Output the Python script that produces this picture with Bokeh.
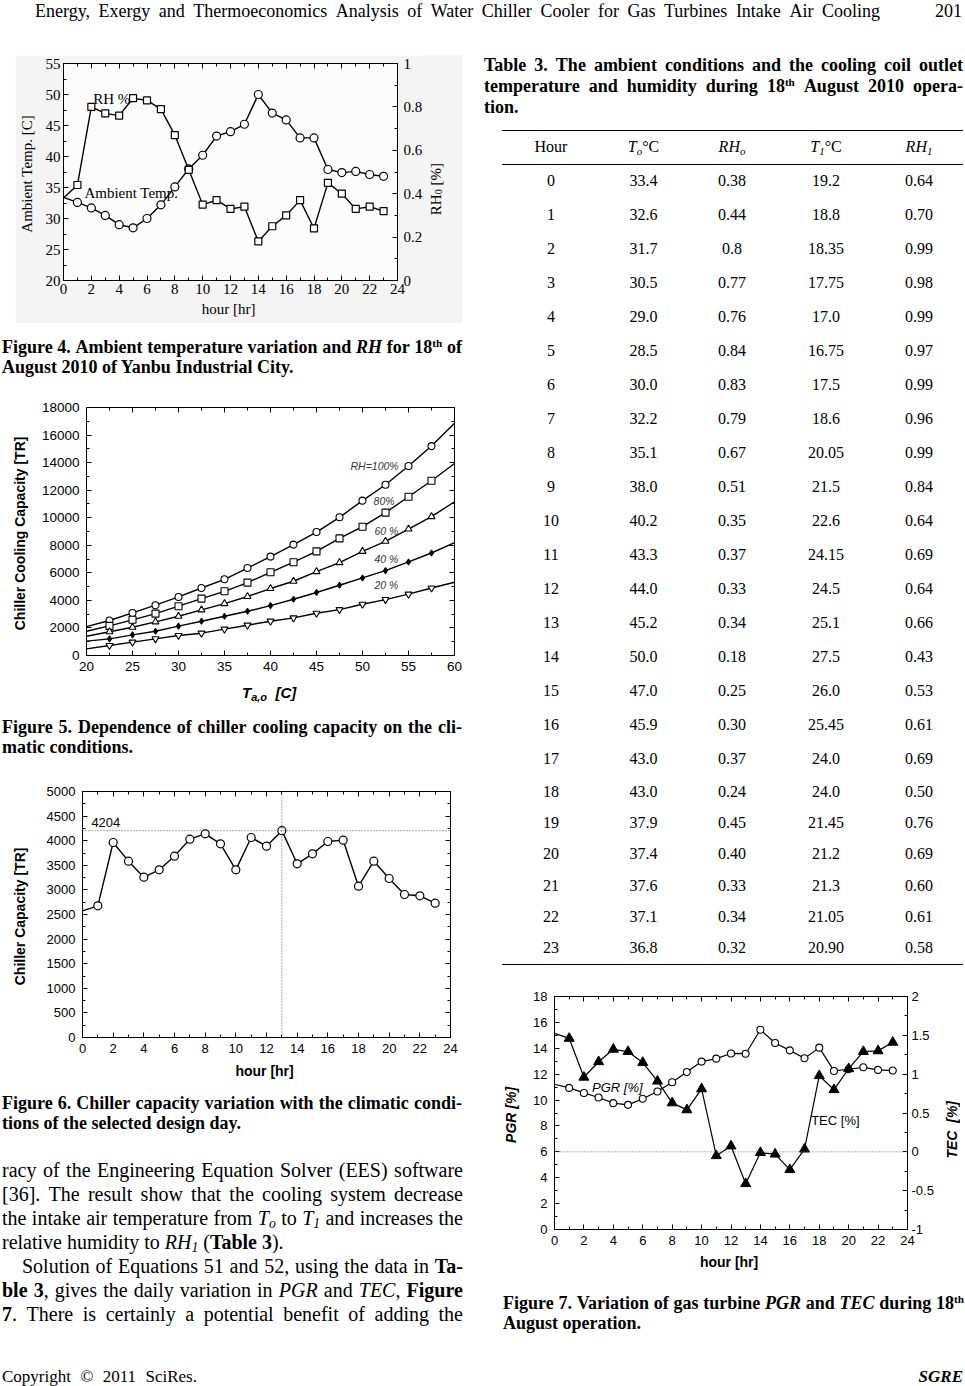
import math
from bokeh.plotting import figure
from bokeh.models import (LinearAxis, Range1d, SingleIntervalTicker, Label, Div,
                          Spacer, CustomJSTickFormatter, Span)
from bokeh.layouts import column, row
from bokeh.embed import file_html
from bokeh.resources import INLINE

SERIF = "Liberation Serif"
SANS = "Liberation Sans"

# ---------------- data ----------------
hours = list(range(24))
table_hour = [str(h) for h in hours]
table_To = ["33.4", "32.6", "31.7", "30.5", "29.0", "28.5", "30.0", "32.2", "35.1", "38.0", "40.2", "43.3",
            "44.0", "45.2", "50.0", "47.0", "45.9", "43.0", "43.0", "37.9", "37.4", "37.6", "37.1", "36.8"]
table_RHo = ["0.38", "0.44", "0.8", "0.77", "0.76", "0.84", "0.83", "0.79", "0.67", "0.51", "0.35", "0.37",
             "0.33", "0.34", "0.18", "0.25", "0.30", "0.37", "0.24", "0.45", "0.40", "0.33", "0.34", "0.32"]
table_T1 = ["19.2", "18.8", "18.35", "17.75", "17.0", "16.75", "17.5", "18.6", "20.05", "21.5", "22.6", "24.15",
            "24.5", "25.1", "27.5", "26.0", "25.45", "24.0", "24.0", "21.45", "21.2", "21.3", "21.05", "20.90"]
table_RH1 = ["0.64", "0.70", "0.99", "0.98", "0.99", "0.97", "0.99", "0.96", "0.99", "0.84", "0.64", "0.69",
             "0.64", "0.66", "0.43", "0.53", "0.61", "0.69", "0.50", "0.76", "0.69", "0.60", "0.61", "0.58"]
amb_temp = [float(v) for v in table_To]
rh_o = [float(v) for v in table_RHo]

# Figure 5: cooling capacity [TR] vs ambient temperature for several RH
ta = [20, 22.5, 25, 27.5, 30, 32.5, 35, 37.5, 40, 42.5, 45, 47.5, 50, 52.5, 55, 57.5, 60]
cap_rh100 = [2100, 2540, 3090, 3650, 4250, 4900, 5530, 6350, 7180, 8050, 8960, 10030, 11240, 12390, 13750, 15200, 16860]
cap_rh80 = [1760, 2150, 2590, 3040, 3580, 4130, 4660, 5290, 6040, 6770, 7560, 8500, 9350, 10370, 11520, 12680, 13940]
cap_rh60 = [1400, 1720, 2050, 2440, 2850, 3310, 3770, 4280, 4860, 5390, 6090, 6740, 7560, 8290, 9180, 10080, 11160]
cap_rh40 = [1040, 1210, 1500, 1760, 2130, 2490, 2850, 3210, 3620, 4080, 4570, 5100, 5630, 6160, 6790, 7440, 8190]
cap_rh20 = [480, 725, 970, 1210, 1450, 1620, 1910, 2200, 2490, 2730, 3070, 3330, 3720, 4060, 4450, 4900, 5320]

# Figure 6: chiller capacity [TR] per hour
chiller_cap = [2575, 2676, 3963, 3584, 3259, 3408, 3686, 4031, 4140, 3936, 3408, 4065,
               3889, 4204, 3530, 3733, 3984, 4011, 3076, 3584, 3232, 2907, 2880, 2730]
cap_max = 4204
cap_max_hour = 13

# Figure 7: PGR [%] and TEC [%] per hour
pgr = [11.22, 10.94, 10.55, 10.2, 9.76, 9.63, 10.1, 10.66, 11.38, 12.17, 12.97, 13.2,
       13.6, 13.58, 15.43, 14.41, 13.84, 13.23, 14.05, 12.25, 12.38, 12.53, 12.33, 12.28]
tec = [1.525, 1.46, 0.96, 1.16, 1.32, 1.29, 1.15, 0.91, 0.63, 0.54, 0.81, -0.05,
       0.075, -0.41, -0.01, -0.03, -0.23, 0.035, 0.98, 0.80, 1.07, 1.29, 1.30, 1.41]

NUMFMT = "return Number(tick.toFixed(2)).toString();"


# ---------------- helpers ----------------
def make_fig(width, height, xr, yr, mb, bg="white", border="white"):
    l, r, t, b = mb
    p = figure(width=width, height=height, x_range=Range1d(*xr), y_range=Range1d(*yr),
               output_backend="svg", toolbar_location=None,
               min_border_left=l, min_border_right=r, min_border_top=t, min_border_bottom=b,
               background_fill_color=bg, border_fill_color=border)
    p.outline_line_color = "black"
    p.outline_line_width = 1
    p.xgrid.grid_line_color = None
    p.ygrid.grid_line_color = None
    return p


def style_axis(ax, interval, font, size, standoff=5, hide=False, fmt=None):
    ax.ticker = SingleIntervalTicker(interval=interval, num_minor_ticks=2)
    ax.major_tick_in = 5
    ax.major_tick_out = 0
    ax.minor_tick_in = 3
    ax.minor_tick_out = 0
    ax.axis_line_color = "black"
    ax.major_tick_line_color = "black"
    ax.minor_tick_line_color = "black"
    ax.major_label_text_font = font
    ax.major_label_text_font_size = size
    ax.major_label_text_color = "black"
    ax.major_label_standoff = standoff
    if fmt is not None:
        ax.formatter = fmt
    if hide:
        ax.major_label_text_font_size = "1px"
        ax.major_label_text_color = None
        ax.major_label_standoff = 0


def title_axis(ax, text, font, size, style, standoff):
    ax.axis_label = text
    ax.axis_label_text_font = font
    ax.axis_label_text_font_size = size
    ax.axis_label_text_font_style = style
    ax.axis_label_text_color = "black"
    ax.axis_label_standoff = standoff


def lab(p, x, y, text, font, size, style="normal", align="left", baseline="middle", color="black"):
    p.add_layout(Label(x=x, y=y, text=text, text_font=font, text_font_size=size,
                       text_font_style=style, text_align=align, text_baseline=baseline,
                       text_color=color))


CSS = ("<style>.jl{display:flex;justify-content:space-between;white-space:nowrap}"
       ".ll{white-space:nowrap}"
       "sub{font-size:68%;line-height:0;vertical-align:-0.25em}"
       "sup{font-size:62%;line-height:0;vertical-align:0.55em}</style>")


def jline(s, indent=0):
    st = f' style="padding-left:{indent}px"' if indent else ""
    return f'<div class="jl"{st}>' + "".join(f"<span>{w}</span>" for w in s.split(" ")) + "</div>"


def lline(s, indent=0):
    st = f' style="padding-left:{indent}px"' if indent else ""
    return f'<div class="ll"{st}>{s}</div>'


def block(lines_html, width, height, inner_width, left=0, size=18, lh=20, weight="normal"):
    html = (CSS + f'<div style="position:relative;left:{left}px;width:{inner_width}px;'
            f"font-family:'{SERIF}';font-size:{size}px;line-height:{lh}px;font-weight:{weight};color:#000\">"
            + "".join(lines_html) + "</div>")
    return Div(text=html, width=width, height=height, margin=0)


def vtitle(text, width, height, cx, font, size, style, bg="white"):
    # rotated axis title that reads bottom-to-top, centred on x = cx inside the box
    html = (CSS + f'<div style="position:relative;width:{width}px;height:{height}px;background:{bg}">'
            f'<div style="position:absolute;left:{cx - 10}px;top:0px;width:20px;height:{height}px;'
            f'display:flex;align-items:center;justify-content:center">'
            f"<span style=\"writing-mode:vertical-rl;transform:rotate(180deg);white-space:nowrap;"
            f"font-family:'{font}';font-size:{size}px;{style};color:#000\">{text}</span></div></div>")
    return Div(text=html, width=width, height=height, margin=0)


# ---------------- Figure 4 ----------------
p4 = make_fig(414, 268, (0, 24), (20, 55), (48, 32, 8, 43), bg="#fcfcfc", border="#f4f4f4")
p4.extra_y_ranges = {"rh": Range1d(0, 1)}
style_axis(p4.xaxis[0], 2, SERIF, "15px", standoff=3)
title_axis(p4.xaxis[0], "hour  [hr]", SERIF, "15px", "normal", 4)
style_axis(p4.yaxis[0], 5, SERIF, "15px", standoff=3)
title_axis(p4.yaxis[0], "Ambient Temp.  [C]", SERIF, "15px", "normal", 8)
ax = LinearAxis(y_range_name="rh")
style_axis(ax, 0.2, SERIF, "15px", standoff=6, fmt=CustomJSTickFormatter(code=NUMFMT))
p4.add_layout(ax, "right")
ax = LinearAxis()
style_axis(ax, 2, SERIF, "15px", hide=True)
p4.add_layout(ax, "above")
p4.line(hours, amb_temp, line_color="black", line_width=1.4)
p4.scatter(hours[1:], amb_temp[1:], marker="circle", size=8, fill_color="white", line_color="black", line_width=1.2)
p4.line(hours, rh_o, y_range_name="rh", line_color="black", line_width=1.4)
p4.scatter(hours[1:], rh_o[1:], y_range_name="rh", marker="square", size=7, fill_color="white",
           line_color="black", line_width=1.2)
lab(p4, 2.14, 49.3, "RH %", SERIF, "15px")
lab(p4, 1.5, 34.1, "Ambient Temp.", SERIF, "15px")
rt4 = vtitle("RH<sub>0</sub> [%]", 33, 268, 8, SERIF, 15, "font-weight:normal", bg="#f4f4f4")

# ---------------- Figure 5 ----------------
p5 = make_fig(462, 283, (20, 60), (0, 18000), (71, 16, 12, 23))
style_axis(p5.xaxis[0], 5, SANS, "13.5px", standoff=6)
style_axis(p5.yaxis[0], 2000, SANS, "13.5px", standoff=7)
title_axis(p5.yaxis[0], "Chiller Cooling Capacity  [TR]", SANS, "14px", "bold", 11)
ax = LinearAxis()
style_axis(ax, 2000, SANS, "13px", hide=True)
p5.add_layout(ax, "right")
ax = LinearAxis()
style_axis(ax, 5, SANS, "13px", hide=True)
p5.add_layout(ax, "above")
series5 = [(cap_rh100, "circle", "white", 7), (cap_rh80, "square", "white", 7),
           (cap_rh60, "triangle", "white", 7), (cap_rh40, "diamond", "black", 6),
           (cap_rh20, "inverted_triangle", "white", 7)]
for vals, mk, fc, sz in series5:
    p5.line(ta, vals, line_color="black", line_width=1.4)
    p5.scatter(ta[1:-1], vals[1:-1], marker=mk, size=sz, fill_color=fc, line_color="black", line_width=1.1)
lab(p5, 48.7, 13773, "RH=100%", SANS, "10.5px", style="italic", color="#333333")
lab(p5, 51.2, 11236, "80%", SANS, "10.5px", style="italic", color="#333333")
lab(p5, 51.3, 9061, "60 %", SANS, "10.5px", style="italic", color="#333333")
lab(p5, 51.3, 7010, "40 %", SANS, "10.5px", style="italic", color="#333333")
lab(p5, 51.3, 5125, "20 %", SANS, "10.5px", style="italic", color="#333333")
xt5 = Div(text=(f"<div style=\"position:relative;width:462px;height:34px\">"
                f"<div style=\"position:absolute;left:234px;top:5px;line-height:20px;white-space:nowrap;"
                f"font-family:'{SANS}';font-size:15px;font-weight:bold;font-style:italic;color:#000\">"
                f"T<sub style=\"font-size:11px;line-height:0;vertical-align:-3px\">a,o</sub>&nbsp;&nbsp;[C]</div></div>"),
          width=462, height=34, margin=0)

# ---------------- Figure 6 ----------------
p6 = make_fig(462, 305, (0, 24), (0, 5000), (70, 20, 11, 48))
style_axis(p6.xaxis[0], 2, SANS, "13px", standoff=6)
title_axis(p6.xaxis[0], "hour  [hr]", SANS, "14px", "bold", 7)
style_axis(p6.yaxis[0], 500, SANS, "13px", standoff=7)
title_axis(p6.yaxis[0], "Chiller Capacity  [TR]", SANS, "14px", "bold", 16)
ax = LinearAxis()
style_axis(ax, 500, SANS, "13px", hide=True)
p6.add_layout(ax, "right")
ax = LinearAxis()
style_axis(ax, 2, SANS, "13px", hide=True)
p6.add_layout(ax, "above")
p6.add_layout(Span(location=cap_max, dimension="width", line_color="#555555", line_width=1, line_dash="1 2"))
p6.add_layout(Span(location=cap_max_hour, dimension="height", line_color="#555555", line_width=1, line_dash="1 2"))
p6.line(hours, chiller_cap, line_color="black", line_width=1.4)
p6.scatter(hours[1:], chiller_cap[1:], marker="circle", size=8, fill_color="white", line_color="black", line_width=1.2)
lab(p6, 0.58, 4370, str(cap_max), SANS, "13px")

# ---------------- Figure 7 ----------------
p7 = make_fig(443, 290, (0, 24), (0, 18), (52, 36, 11, 46))
p7.extra_y_ranges = {"tec": Range1d(-1, 2)}
style_axis(p7.xaxis[0], 2, SANS, "13px", standoff=6)
title_axis(p7.xaxis[0], "hour  [hr]", SANS, "14px", "bold", 6)
style_axis(p7.yaxis[0], 2, SANS, "13px", standoff=7)
title_axis(p7.yaxis[0], "PGR  [%]", SANS, "14px", "bold italic", 11)
ax = LinearAxis(y_range_name="tec")
style_axis(ax, 0.5, SANS, "13px", standoff=4, fmt=CustomJSTickFormatter(code=NUMFMT))
p7.add_layout(ax, "right")
ax = LinearAxis()
style_axis(ax, 2, SANS, "13px", hide=True)
p7.add_layout(ax, "above")
p7.add_layout(Span(location=6, dimension="width", line_color="#666666", line_width=1, line_dash="1 2"))
p7.line(hours, pgr, line_color="black", line_width=1.2)
p7.scatter(hours[1:], pgr[1:], marker="circle", size=7, fill_color="white", line_color="black", line_width=1.1)
p7.line(hours, tec, y_range_name="tec", line_color="black", line_width=1.2)
p7.scatter(hours[1:], tec[1:], y_range_name="tec", marker="triangle", size=10, fill_color="black", line_color="black")
lab(p7, 2.55, 10.94, "PGR  [%]", SANS, "13px", style="italic")
lab(p7, 17.45, 8.42, "TEC  [%]", SANS, "13px")
rt7 = vtitle("TEC&nbsp;&nbsp;[%]", 20, 290, 9, SANS, 14, "font-weight:bold;font-style:italic")

# ---------------- text blocks ----------------
PAGE_W = 964
header = Div(text=CSS + (
    f"<div style=\"position:relative;width:{PAGE_W}px;height:55px;font-family:'{SERIF}';font-size:18px;line-height:18px;color:#000\">"
    f"<div class=\"jl\" style=\"position:absolute;left:35px;top:2px;width:845px\">"
    + "".join(f"<span>{w}</span>" for w in
              "Energy, Exergy and Thermoeconomics Analysis of Water Chiller Cooler for Gas Turbines Intake Air Cooling".split(" "))
    + "</div><div style=\"position:absolute;right:2px;top:2px\">201</div></div>"),
    width=PAGE_W, height=55, margin=0)

cap4 = block([jline("Figure 4. Ambient temperature variation and <i>RH</i> for 18<sup>th</sup> of"),
              lline("August 2010 of Yanbu Industrial City.")], 483, 40, 460, left=2, weight="bold")
cap5 = block([jline("Figure 5. Dependence of chiller cooling capacity on the cli-"),
              lline("matic conditions.")], 483, 40, 460, left=2, weight="bold")
cap6 = block([jline("Figure 6. Chiller capacity variation with the climatic condi-"),
              lline("tions of the selected design day.")], 483, 40, 460, left=2, weight="bold")
para = block([jline("racy of the Engineering Equation Solver (EES) software"),
              jline("[36]. The result show that the cooling system decrease"),
              jline("the intake air temperature from <i>T<sub>o</sub></i> to <i>T<sub>1</sub></i> and increases the"),
              lline("relative humidity to <i>RH<sub>1</sub></i> (<b>Table 3</b>)."),
              jline("Solution of Equations 51 and 52, using the data in <b>Ta-</b>", indent=20),
              jline("<b>ble</b> <b>3</b>, gives the daily variation in <i>PGR</i> and <i>TEC</i>, <b>Figure</b>"),
              jline("<b>7</b>. There is certainly a potential benefit of adding the")],
             483, 168, 461, left=2, size=20, lh=24)
tabcap = block([jline("Table 3. The ambient conditions and the cooling coil outlet"),
                jline("temperature and humidity during 18<sup>th</sup> August 2010 opera-"),
                lline("tion.")], 481, 63, 479, left=1, lh=21, weight="bold")
cap7 = block([jline("Figure 7. Variation of gas turbine <i>PGR</i> and <i>TEC</i> during 18<sup>th</sup>"),
              lline("August operation.")], 461, 40, 461, weight="bold")

# table
col_w = [98, 87, 90, 98, 88]
heads = ["Hour", "<i>T<sub>o</sub></i>°C", "<i>RH<sub>o</sub></i>", "<i>T<sub>1</sub></i>°C", "<i>RH<sub>1</sub></i>"]
thtml = (CSS + f"<table style=\"border-collapse:collapse;table-layout:fixed;width:461px;"
         f"font-family:'{SERIF}';font-size:16px;color:#000;border-top:1.5px solid #000;border-bottom:1.5px solid #000\">"
         + "<colgroup>" + "".join(f'<col style="width:{w}px">' for w in col_w) + "</colgroup>"
         + '<tr style="height:34px">' + "".join(
             f'<td style="text-align:center;padding:0;border-bottom:1.5px solid #000">{h}</td>' for h in heads) + "</tr>")
for i in range(len(table_hour)):
    rh = 34 if i < 18 else 31.3
    cells = [table_hour[i], table_To[i], table_RHo[i], table_T1[i], table_RH1[i]]
    thtml += f'<tr style="height:{rh}px">' + "".join(
        f'<td style="text-align:center;padding:0">{c}</td>' for c in cells) + "</tr>"
thtml += "</table>"
table = Div(text=thtml, width=461, height=836, margin=0)

footer = Div(text=CSS + (
    f"<div style=\"position:relative;width:{PAGE_W}px;height:52px;font-family:'{SERIF}';font-size:17px;line-height:18px;color:#000\">"
    "<div class=\"jl\" style=\"position:absolute;left:2px;top:35px;width:195px\">"
    "<span>Copyright</span><span>©</span><span>2011</span><span>SciRes.</span></div>"
    "<div style=\"position:absolute;right:1px;top:35px;font-weight:bold;font-style:italic\">SGRE</div></div>"),
    width=PAGE_W, height=52, margin=0)

# ---------------- layout ----------------
left_col = column(
    row(Spacer(width=15, height=268), p4, rt4),
    Spacer(height=14), cap4,
    Spacer(height=18),
    row(Spacer(width=8, height=283), p5),
    row(Spacer(width=8, height=34), xt5),
    Spacer(height=5), cap5,
    Spacer(height=23),
    row(Spacer(width=8, height=305), p6),
    Spacer(height=8), cap6,
    Spacer(height=25), para,
    Spacer(height=7),
    width=483)
right_col = column(
    tabcap,
    Spacer(height=12),
    row(Spacer(width=19, height=836), table),
    Spacer(height=19),
    row(Spacer(width=17, height=290), p7, rt7),
    Spacer(height=18),
    row(Spacer(width=20, height=40), cap7),
    width=481)
page = column(header, row(left_col, right_col), footer)

open("out.html", "w").write(file_html(page, INLINE))
